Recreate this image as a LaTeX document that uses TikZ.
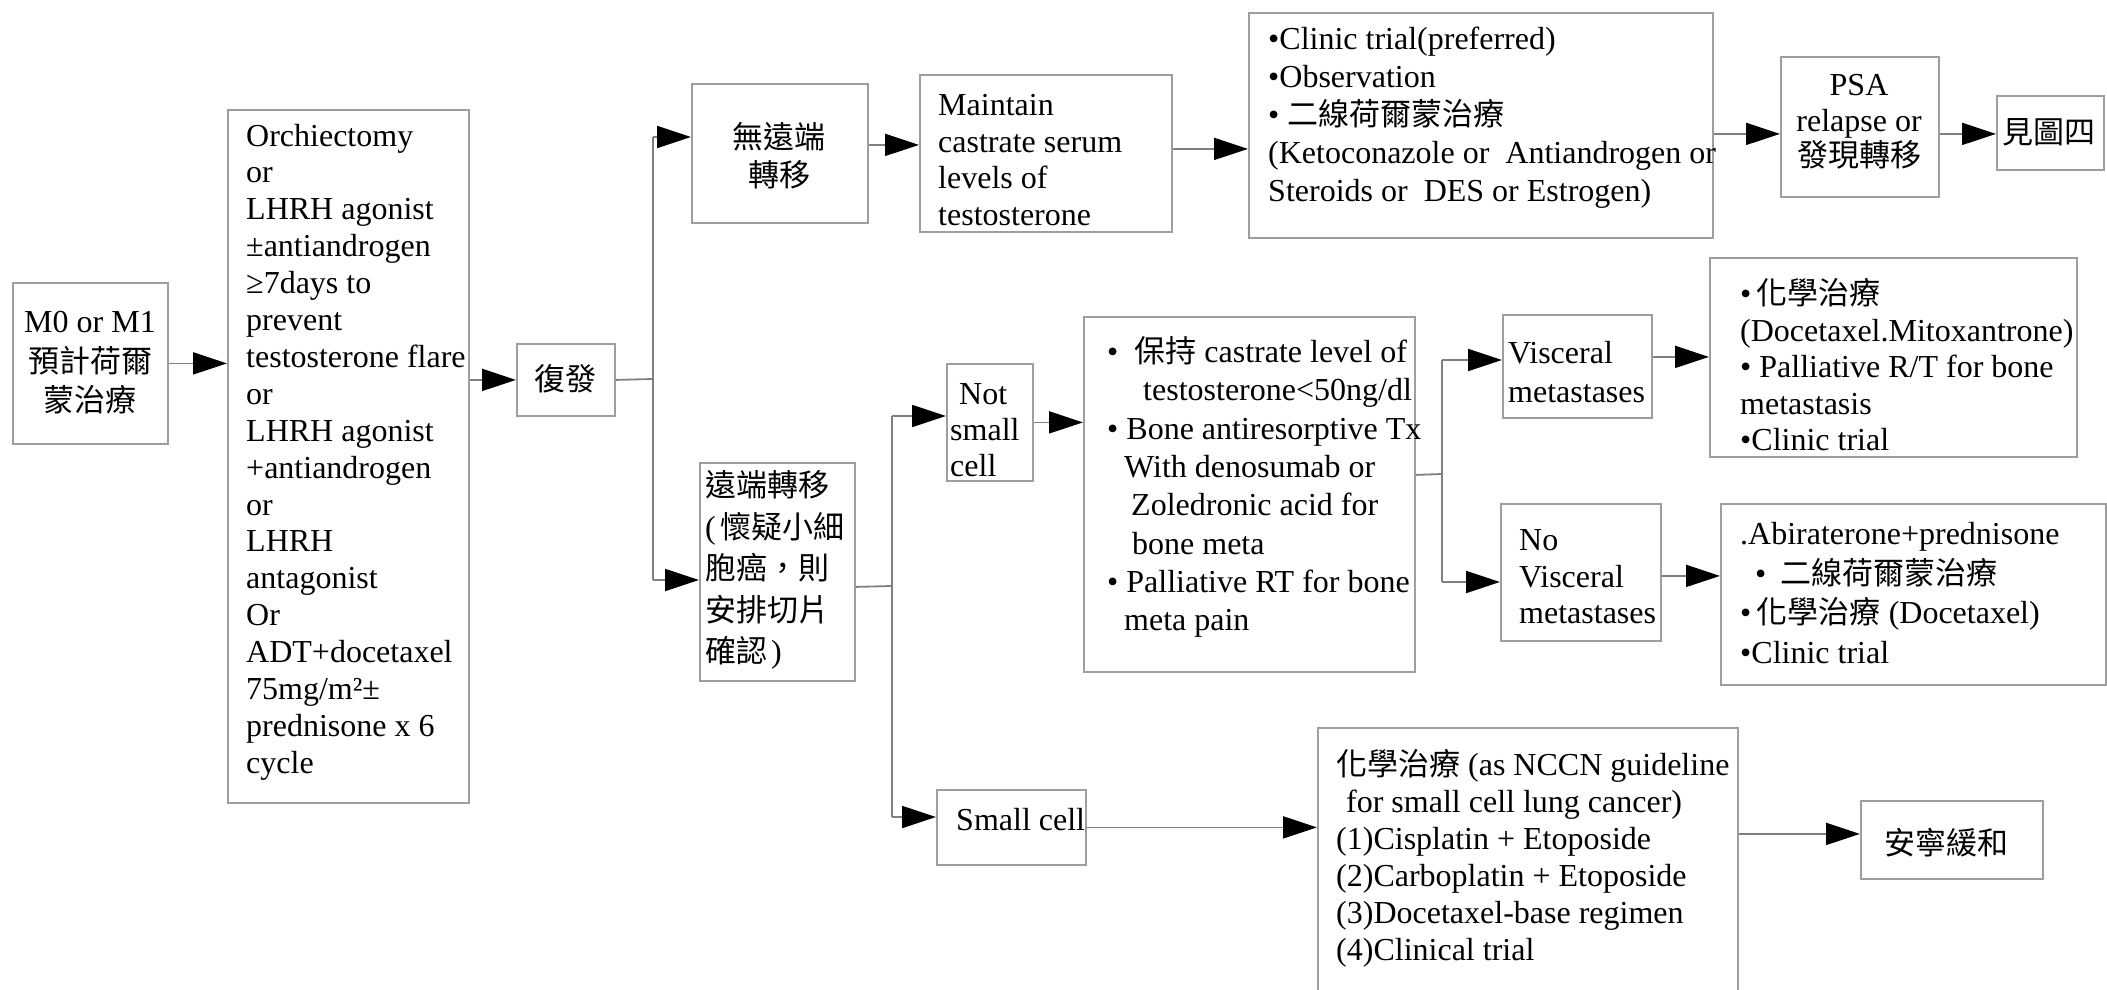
\documentclass[tikz,border=0pt]{standalone}
\usepackage{fontspec}
\setmainfont{Liberation Serif}
\newfontfamily\cjkfont{Noto Sans CJK TC}
\usetikzlibrary{arrows.meta}
\newcommand\zh[1]{{\cjkfont\fontsize{31}{37}\selectfont #1}}
\definecolor{boxgray}{gray}{0.62}
\definecolor{linegray}{gray}{0.5}
\tikzset{
  box/.style={draw=boxgray, line width=1.8pt, anchor=north west, inner sep=0pt},
  txt/.style={inner sep=0pt, font=\fontsize{32}{37}\selectfont, align=left, anchor=west},
  ctxt/.style={inner sep=0pt, font=\fontsize{32}{37}\selectfont, align=center, anchor=center},
  conn/.style={draw=linegray, line width=1.8pt},
  arr/.style={conn, -{Triangle[length=34pt,width=22pt,color=black]}},
}
\begin{document}
\begin{tikzpicture}[x=1pt,y=-1pt]
\useasboundingbox (0,0) rectangle (2107,990);
\fill[white] (0,0) rectangle (2107,990);
\clip (0,0) rectangle (2107,990);

% boxes
\node[box, minimum width=155pt, minimum height=161pt] (m0) at (12,282) {};
\node[box, minimum width=241pt, minimum height=693pt] (big) at (227,109) {};
\node[box, minimum width=98pt, minimum height=72pt] (fu) at (516,343) {};
\node[box, minimum width=176pt, minimum height=139pt] (nod) at (691,83) {};
\node[box, minimum width=252pt, minimum height=157pt] (maint) at (919,74) {};
\node[box, minimum width=464pt, minimum height=225pt] (clin) at (1248,12) {};
\node[box, minimum width=158pt, minimum height=140pt] (psa) at (1780,56) {};
\node[box, minimum width=107pt, minimum height=74pt] (see4) at (1996,95) {};
\node[box, minimum width=155pt, minimum height=218pt] (dist) at (699,462) {};
\node[box, minimum width=86pt, minimum height=117pt] (nsc) at (946,363) {};
\node[box, minimum width=331pt, minimum height=355pt] (bul) at (1083,316) {};
\node[box, minimum width=149pt, minimum height=103pt] (visc) at (1502,314) {};
\node[box, minimum width=367pt, minimum height=199pt] (chem) at (1709,257) {};
\node[box, minimum width=160pt, minimum height=137pt] (novisc) at (1500,503) {};
\node[box, minimum width=385pt, minimum height=181pt] (abi) at (1720,503) {};
\node[box, minimum width=149pt, minimum height=75pt] (sc) at (936,789) {};
\node[box, minimum width=420pt, minimum height=290pt] (nccn) at (1317,727) {};
\node[box, minimum width=182pt, minimum height=78pt] (hosp) at (1860,800) {};

% texts
\node[ctxt, font=\fontsize{32}{39.5}\selectfont] (m0t) at (90,363) {M0 or M1\\\zh{預計荷爾}\\\zh{蒙治療}};
\node[txt, font=\fontsize{32}{36.9}\selectfont] (bigt) at (246,452) {Orchiectomy\\or\\LHRH agonist\\±antiandrogen\\≥7days to\\prevent\\testosterone flare\\or\\LHRH agonist\\+antiandrogen\\or\\LHRH\\antagonist\\Or\\ADT+docetaxel\\75mg/m²±\\prednisone x 6\\cycle};
\node[ctxt] (fut) at (565,379) {\zh{復發}};
\node[ctxt, font=\fontsize{32}{38}\selectfont] (nodt) at (779,156) {\zh{無遠端}\\\zh{轉移}};
\node[txt, font=\fontsize{32}{36.7}\selectfont] (maintt) at (938,160) {Maintain\\castrate serum\\levels of\\testosterone};
\node[txt, font=\fontsize{32}{38}\selectfont] (clint) at (1268,118) {•Clinic trial(preferred)\\•Observation\\• \zh{二線荷爾蒙治療}\\(Ketoconazole or\ \ Antiandrogen or\\Steroids or\ \ DES or Estrogen)};
\node[ctxt, font=\fontsize{32}{35.5}\selectfont] (psat) at (1859,122) {PSA\\relapse or\\\zh{發現轉移}};
\node[ctxt] (see4t) at (2049,132) {\zh{見圖四}};
\node[txt, font=\fontsize{32}{41.5}\selectfont] (distt) at (705,570) {\zh{遠端轉移}\\(\hspace{5pt}\zh{懷疑小細}\\\zh{胞癌，則}\\\zh{安排切片}\\\zh{確認}\hspace{4pt})};
\node[txt, font=\fontsize{32}{36}\selectfont] (nsct) at (950,430) {\hspace*{9pt}Not\\small\\cell};
\node[txt, font=\fontsize{32}{38.3}\selectfont] (bult) at (1107,487) {•\hspace*{16pt}\zh{保持} castrate level of\\\hspace*{36pt}testosterone<50ng/dl\\• Bone antiresorptive Tx\\\hspace*{17pt}With denosumab or\\\hspace*{24pt}Zoledronic acid for\\\hspace*{25pt}bone meta\\• Palliative RT for bone\\\hspace*{17pt}meta pain};
\node[txt, font=\fontsize{32}{39}\selectfont] (visct) at (1508,372) {Visceral\\metastases};
\node[txt, font=\fontsize{32}{36.5}\selectfont] (chemt) at (1740,365) {•\,\zh{化學治療}\\(Docetaxel.Mitoxantrone)\\• Palliative R/T for bone\\metastasis\\•Clinic trial};
\node[txt, font=\fontsize{32}{36.5}\selectfont] (novisct) at (1519,577) {No\\Visceral\\metastases};
\node[txt, font=\fontsize{32}{39.7}\selectfont] (abit) at (1740,593) {.Abiraterone+prednisone\\\hspace*{15pt}•\hspace*{14pt}\zh{二線荷爾蒙治療}\\•\,\zh{化學治療} (Docetaxel)\\•Clinic trial};
\node[txt] (sct) at (956,820) {Small cell};
\node[txt, font=\fontsize{32}{37}\selectfont] (nccnt) at (1336,858) {\zh{化學治療} (as NCCN guideline\\\hspace*{10pt}for small cell lung cancer)\\(1)Cisplatin + Etoposide\\(2)Carboplatin + Etoposide\\(3)Docetaxel-base regimen\\(4)Clinical trial};
\node[ctxt] (hospt) at (1946,843) {\zh{安寧緩和}};

% connectors
\draw[arr] (m0.east) -- (m0.east -| big.west);
\draw[arr] (fu.west -| big.east) -- (fu.west);

\coordinate (j1) at (653,379);
\coordinate (j1t) at (653,137);
\coordinate (j1b) at (653,580);
\draw[conn] (fu.east) -- (j1);
\draw[conn] (j1t) -- (j1b);
\draw[arr] (j1t) -- (j1t -| nod.west);
\draw[arr] (j1b) -- (j1b -| dist.west);

\coordinate (a1) at ([yshift=8.5pt]nod.east);
\draw[arr] (a1) -- (a1 -| maint.west);
\coordinate (a2) at ([yshift=4.5pt]maint.east);
\draw[arr] (a2) -- (a2 -| clin.west);
\coordinate (a3) at ([yshift=-8.5pt]clin.east);
\draw[arr] (a3) -- (a3 -| psa.west);
\coordinate (a4) at ([yshift=-7pt]psa.east);
\draw[arr] (a4) -- (a4 -| see4.west);

\coordinate (d1) at ([yshift=-15pt]dist.east);
\coordinate (j2) at (892,586);
\coordinate (j2t) at (892,416);
\coordinate (j2b) at (892,817);
\draw[conn] (d1) -- (j2);
\draw[conn] (j2t) -- (j2b);
\draw[arr] (j2t) -- (j2t -| nsc.west);
\draw[arr] (j2b) -- (j2b -| sc.west);
\draw[arr] (nsc.east) -- (nsc.east -| bul.west);

\coordinate (b1) at ([yshift=19.5pt]bul.east);
\coordinate (j3) at (1442,474);
\coordinate (j3t) at (1442,360);
\coordinate (j3b) at (1442,582);
\draw[conn] (b1) -- (j3);
\draw[conn] (j3t) -- (j3b);
\draw[arr] (j3t) -- (j3t -| visc.west);
\draw[arr] (j3b) -- (j3b -| novisc.west);

\coordinate (a5) at ([yshift=9.5pt]visc.east);
\draw[arr] (a5) -- (a5 -| chem.west);
\coordinate (a6) at ([yshift=-3.5pt]novisc.east);
\draw[arr] (a6) -- (a6 -| abi.west);
\draw[arr] (sc.east) -- (sc.east -| nccn.west);
\coordinate (a9) at ([yshift=6pt]hosp.west);
\draw[arr] (a9 -| nccn.east) -- (a9);
\end{tikzpicture}
\end{document}
